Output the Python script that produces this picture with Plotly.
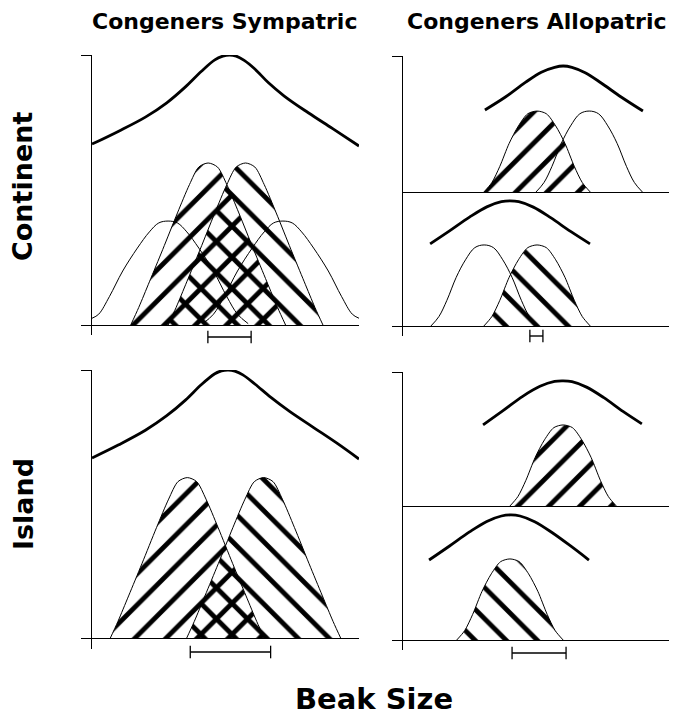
import plotly.graph_objects as go

W, H = 674, 716

# ---------------- data (beak size 0-100, relative frequency) ----------------
# Continent, congeners sympatric
tl_thick_x = [0, 10, 20, 28, 35, 41, 46, 49, 51.5, 54, 57, 61, 66, 72, 81, 90, 100]
tl_thick_y = [67, 71.8, 77, 82.3, 88.2, 94, 98.2, 99.6, 100, 99.6, 98, 94.8, 89.8, 84.8, 78.6, 72.8, 66.3]
tl_hatchA_x = [14.5, 17.5, 21.5, 26.5, 32, 36.5, 40, 43.5, 47, 50.5, 55, 60.5, 65.5, 69.5, 72.5]
tl_hatchB_x = [28.5, 31.5, 35.5, 40.5, 46, 50.5, 54, 57.5, 61, 64.5, 69, 74.5, 79.5, 83.5, 86.5]
big_hatch_y = [0, 6.5, 16, 28, 41.5, 52, 58.5, 60, 58.5, 52, 41.5, 28, 16, 6.5, 0]
tl_thinA_x = [0, 2.5, 6.5, 11.5, 17, 21.5, 25, 28.5, 32, 35.5, 40, 45.5, 50.5, 54.5, 58.5]
tl_thinA_y = [2.5, 4, 10.5, 20, 28.5, 34.5, 37.8, 38.5, 37.8, 34.5, 28.5, 20, 10.5, 4, 0.5]
tl_thinB_x = [41.5, 45.5, 49.5, 54.5, 60, 64.5, 68, 71.5, 75, 78.5, 83, 88.5, 93.5, 97.5, 100]
tl_thinB_y = [0.5, 4, 10.5, 20, 28.5, 34.5, 37.8, 38.5, 37.8, 34.5, 28.5, 20, 10.5, 4, 2.5]
tl_bar = [43.4, 59.6]

# Continent, congeners allopatric (upper and lower populations)
small_hatch_y = [0, 3.5, 9.5, 18, 24.5, 29, 30, 29, 24.5, 18, 9.5, 3.5, 0]
tru_thick_x = [30.8, 38.5, 46, 52, 57, 60.2, 63.5, 68.5, 74.5, 82, 90.2]
tru_thick_y = [30.4, 35.2, 40.6, 44.4, 46.2, 46.7, 46.2, 44.2, 40.4, 35.2, 30.0]
tru_hatch_x = [30.4, 33.4, 36.4, 39.9, 43.4, 46.9, 50.4, 53.9, 57.4, 60.9, 64.4, 67.4, 70.4]
tru_thin_x = [50, 53, 56, 59.5, 63, 66.5, 70, 73.5, 77, 80.5, 84, 87, 90]
trl_thick_x = [10.2, 17.5, 25, 31.5, 37, 40.2, 43.5, 49, 55.5, 63, 70.3]
trl_thick_y = [30.4, 35.2, 40.3, 44.1, 46, 46.3, 46, 44, 40.1, 35, 30.4]
trl_thin_x = [10.5, 13.5, 16.5, 20, 23.5, 27, 30.5, 34, 37.5, 41, 44.5, 47.5, 50.5]
trl_hatch_x = [30.4, 33.4, 36.4, 39.9, 43.4, 46.9, 50.4, 53.9, 57.4, 60.9, 64.4, 67.4, 70.4]
tr_bar = [47.7, 52.6]

# Island, congeners sympatric
bl_thick_x = [0, 10, 20, 28, 35, 41, 46, 48.5, 51, 53.5, 56.5, 61, 67, 74, 83, 92, 100]
bl_thick_y = [67.3, 72.2, 77.6, 83, 88.8, 94.6, 98.6, 99.7, 100, 99.6, 98.2, 94.8, 89.8, 84.6, 78.6, 72.6, 66.9]
bl_hatchA_x = [6.7, 9.7, 13.7, 18.7, 24.2, 28.7, 32.2, 35.7, 39.2, 42.7, 47.2, 52.7, 57.7, 61.7, 64.7]
bl_hatchB_x = [35.3, 38.3, 42.3, 47.3, 52.8, 57.3, 60.8, 64.3, 67.8, 71.3, 75.8, 81.3, 86.3, 90.3, 93.3]
bl_bar = [36.8, 66.9]

# Island, congeners allopatric
bru_thick_x = [30.1, 37.6, 45, 51.5, 57, 60.2, 63.5, 69, 75.5, 82.7, 89.8]
bru_thick_y = [30.0, 35.3, 40.6, 44.3, 46.1, 46.3, 46, 44, 40.1, 35, 30.4]
bru_hatch_x = [40.2, 43.2, 46.2, 49.7, 53.2, 56.7, 60.2, 63.7, 67.2, 70.7, 74.2, 77.2, 80.2]
brl_thick_x = [9.8, 17.5, 25, 31.5, 37, 40.6, 44, 49.5, 56, 63, 69.9]
brl_thick_y = [29.6, 34.8, 40, 43.9, 45.9, 46.3, 45.9, 43.8, 39.8, 34.8, 29.6]
brl_hatch_x = [20.2, 23.2, 26.2, 29.7, 33.2, 36.7, 40.2, 43.7, 47.2, 50.7, 54.2, 57.2, 60.2]
br_bar = [41, 61.3]

col_titles = ["Congeners Sympatric", "Congeners Allopatric"]
row_titles = ["Continent", "Island"]
x_title = "Beak Size"

# ---------------- layout helpers ----------------
def dx(p0, p1):
    return [p0 / W, p1 / W]

def dy(top, bottom):
    return [1 - bottom / H, 1 - top / H]

LEFT = (92, 359)
RIGHT = (403, 669)

panels = {
    1: (LEFT, (55, 335), [-3.7, 100], "single"),
    2: (RIGHT, (56, 192), [0, 50.4], "upper"),
    3: (RIGHT, (192, 336), [-3.7, 49.6], "lower"),
    4: (LEFT, (370, 649), [-3.72, 100], "single"),
    5: (RIGHT, (372, 506), [0, 49.6], "upper"),
    6: (RIGHT, (506, 650), [-3.7, 49.6], "lower"),
}
bar_axes = {7: (LEFT, (330, 344)), 8: (RIGHT, (329, 343)),
            9: (LEFT, (645, 659)), 10: (RIGHT, (646, 660))}

fig = go.Figure()

def ax_names(i):
    return ("x" if i == 1 else f"x{i}", "y" if i == 1 else f"y{i}")

HATCH_SIZE = 22
HATCH_SOLID = 0.22

def hatched(x, y, ax, shape):
    xa, ya = ax_names(ax)
    fig.add_trace(go.Scatter(
        x=x, y=y, xaxis=xa, yaxis=ya, mode="lines",
        line=dict(color="black", width=1, shape="spline", smoothing=0.8),
        fill="toself", fillcolor="rgba(0,0,0,0)",
        fillpattern=dict(shape=shape, size=HATCH_SIZE, solidity=HATCH_SOLID, fgcolor="black",
                         bgcolor="rgba(0,0,0,0)", fillmode="replace"),
        hoverinfo="skip", showlegend=False))

def curve(x, y, ax, width):
    xa, ya = ax_names(ax)
    fig.add_trace(go.Scatter(
        x=x, y=y, xaxis=xa, yaxis=ya, mode="lines",
        line=dict(color="black", width=width, shape="spline", smoothing=1.0),
        hoverinfo="skip", showlegend=False))

def bar(b, ax):
    xa, ya = ax_names(ax)
    fig.add_trace(go.Scatter(
        x=b, y=[0, 0], xaxis=xa, yaxis=ya, mode="lines+markers",
        line=dict(color="black", width=1.4),
        marker=dict(symbol="line-ns", size=9, color="black",
                    line=dict(width=1.3, color="black")),
        hoverinfo="skip", showlegend=False))

# top-left
hatched(tl_hatchA_x, big_hatch_y, 1, "/")
hatched(tl_hatchB_x, big_hatch_y, 1, "\\")
curve(tl_thinA_x, tl_thinA_y, 1, 1)
curve(tl_thinB_x, tl_thinB_y, 1, 1)
curve(tl_thick_x, tl_thick_y, 1, 2.8)
bar(tl_bar, 7)
# top-right
hatched(tru_hatch_x, small_hatch_y, 2, "/")
curve(tru_thin_x, small_hatch_y, 2, 1)
curve(tru_thick_x, tru_thick_y, 2, 2.8)
hatched(trl_hatch_x, small_hatch_y, 3, "\\")
curve(trl_thin_x, small_hatch_y, 3, 1)
curve(trl_thick_x, trl_thick_y, 3, 2.8)
bar(tr_bar, 8)
# bottom-left
hatched(bl_hatchA_x, big_hatch_y, 4, "/")
hatched(bl_hatchB_x, big_hatch_y, 4, "\\")
curve(bl_thick_x, bl_thick_y, 4, 2.8)
bar(bl_bar, 9)
# bottom-right
hatched(bru_hatch_x, small_hatch_y, 5, "/")
curve(bru_thick_x, bru_thick_y, 5, 2.8)
hatched(brl_hatch_x, small_hatch_y, 6, "\\")
curve(brl_thick_x, brl_thick_y, 6, 2.8)
bar(br_bar, 10)

layout = dict(
    width=W, height=H, margin=dict(l=0, r=0, t=0, b=0),
    paper_bgcolor="white", plot_bgcolor="rgba(0,0,0,0)",
    showlegend=False, hovermode=False,
)

for i, (xs, ys, yr, kind) in panels.items():
    xk = "xaxis" if i == 1 else f"xaxis{i}"
    yk = "yaxis" if i == 1 else f"yaxis{i}"
    xa, ya = ax_names(i)
    xaxis = dict(domain=dx(*xs), range=[0, 100], anchor=ya, showgrid=False,
                 zeroline=False, showticklabels=False, fixedrange=True)
    if kind == "upper":
        xaxis.update(showline=True, linecolor="black", linewidth=1, ticks="")
    else:
        xaxis.update(showline=False, ticks="inside", tickvals=[100], ticklen=10,
                     tickwidth=1, tickcolor="black")
    yaxis = dict(domain=dy(*ys), range=yr, anchor=xa, showgrid=False,
                 showticklabels=False, showline=True, linecolor="black", linewidth=1,
                 ticks="outside", ticklen=10, tickwidth=1, tickcolor="black",
                 fixedrange=True)
    if kind == "single":
        yaxis.update(tickvals=[0, yr[1]], zeroline=True, zerolinecolor="black", zerolinewidth=1)
    elif kind == "upper":
        yaxis.update(tickvals=[yr[1]], zeroline=False)
    else:
        yaxis.update(tickvals=[0], zeroline=True, zerolinecolor="black", zerolinewidth=1)
    layout[xk] = xaxis
    layout[yk] = yaxis

for i, (xs, ys) in bar_axes.items():
    xa, ya = ax_names(i)
    layout[f"xaxis{i}"] = dict(domain=dx(*xs), range=[0, 100], anchor=ya, visible=False, fixedrange=True)
    layout[f"yaxis{i}"] = dict(domain=dy(*ys), range=[-1, 1], anchor=xa, visible=False, fixedrange=True)

FONT = "DejaVu Sans"
ann = []
for txt, cx in zip(col_titles, [224, 537]):
    ann.append(dict(text=f"<b>{txt}</b>", x=cx / W, y=1 - 21 / H, xref="paper", yref="paper",
                    showarrow=False, xanchor="center", yanchor="middle",
                    font=dict(family=FONT, size=22, color="black")))
for txt, cy in zip(row_titles, [186, 504]):
    ann.append(dict(text=f"<b>{txt}</b>", x=23 / W, y=1 - cy / H, xref="paper", yref="paper",
                    showarrow=False, xanchor="center", yanchor="middle", textangle=-90,
                    font=dict(family=FONT, size=27, color="black")))
ann.append(dict(text=f"<b>{x_title}</b>", x=374 / W, y=1 - 699 / H, xref="paper", yref="paper",
                showarrow=False, xanchor="center", yanchor="middle",
                font=dict(family=FONT, size=29, color="black")))
layout["annotations"] = ann

fig.update_layout(**layout)
fig.write_html("out.html")
